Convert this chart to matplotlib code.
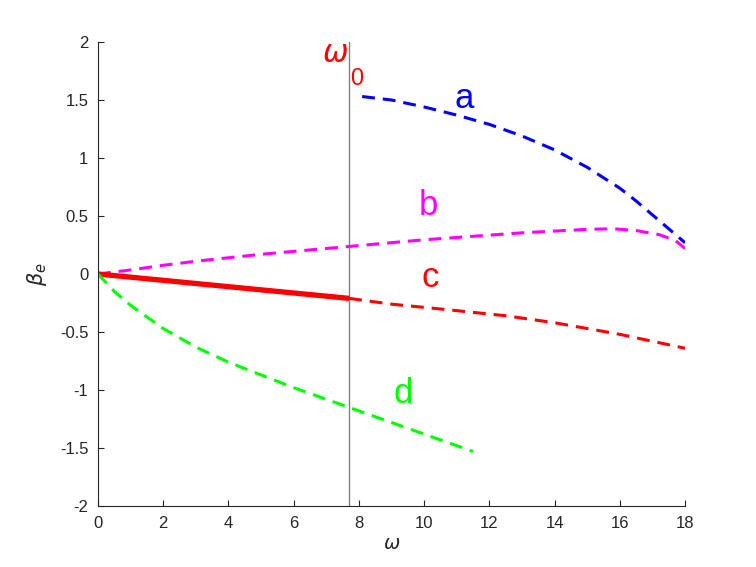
import matplotlib
matplotlib.use("Agg")
import matplotlib.pyplot as plt

plt.rcParams["font.family"] = ["Liberation Sans", "DejaVu Sans"]
plt.rcParams["axes.unicode_minus"] = False

# -----------------------------
# DATA
# -----------------------------
omega0 = 7.7

# a: blue dashed
a_x = [8.1, 9.0, 10.0, 11.0, 12.0, 13.0, 14.0, 15.0, 16.0, 16.5, 17.0, 17.5, 18.0]
a_y = [1.53, 1.50, 1.44, 1.37, 1.29, 1.19, 1.07, 0.92, 0.74, 0.63, 0.51, 0.39, 0.27]

# b: magenta dashed
b_x = [0.0, 1.0, 2.0, 3.0, 4.0, 5.0, 6.0, 7.0, 8.0, 9.0, 10.0, 11.0, 12.0, 13.0, 14.0, 15.0,
       15.8, 16.5, 17.2, 17.7, 18.0]
b_y = [0.0, 0.035, 0.075, 0.11, 0.14, 0.17, 0.195, 0.22, 0.245, 0.27, 0.295, 0.315, 0.335, 0.355,
       0.37, 0.385, 0.39, 0.375, 0.34, 0.29, 0.22]

# c: red, solid below omega0, dashed above
c_solid_x = [0.0, omega0]
c_solid_y = [0.0, -0.21]
c_dash_x = [7.7, 9.0, 10.8, 12.5, 14.0, 16.0, 18.0]
c_dash_y = [-0.21, -0.26, -0.31, -0.36, -0.42, -0.52, -0.64]

# d: green dashed
d_x = [0.0, 0.5, 1.0, 1.5, 2.0, 3.0, 4.0, 5.0, 6.0, 7.0, 7.7, 8.5, 9.5, 10.5, 11.5]
d_y = [0.0, -0.15, -0.27, -0.37, -0.47, -0.63, -0.76, -0.87, -0.98, -1.08, -1.15,
       -1.23, -1.33, -1.43, -1.53]

x_ticks = [0, 2, 4, 6, 8, 10, 12, 14, 16, 18]
y_ticks = [-2, -1.5, -1, -0.5, 0, 0.5, 1, 1.5, 2]
y_tick_labels = ["-2", "-1.5", "-1", "-0.5", "0", "0.5", "1", "1.5", "2"]

# -----------------------------
# PLOT
# -----------------------------
fig = plt.figure(figsize=(7.56, 5.67), dpi=100)
ax = fig.add_axes([98 / 756, 1 - 506 / 567, 587 / 756, 464 / 567])

dash = (4.2, 2.6)
lw = 2.2
ax.axvline(omega0, color="#808080", linewidth=1.0, zorder=1)
ax.plot(a_x, a_y, color="#0000ff", linewidth=lw, dashes=dash)
ax.plot(b_x, b_y, color="#ff00ff", linewidth=lw, dashes=dash)
ax.plot(c_dash_x, c_dash_y, color="#ff0000", linewidth=lw, dashes=dash)
ax.plot(c_solid_x, c_solid_y, color="#ff0000", linewidth=3.8, solid_capstyle="butt")
ax.plot(d_x, d_y, color="#00ff00", linewidth=lw, dashes=dash)

lab_size = 25
ax.text(11.22, 1.43, "a", color="#0000ff", fontsize=lab_size, ha="center", va="baseline")
ax.text(10.12, 0.51, "b", color="#ff00ff", fontsize=lab_size, ha="center", va="baseline")
ax.text(10.18, -0.11, "c", color="#ff0000", fontsize=lab_size, ha="center", va="baseline")
ax.text(9.36, -1.115, "d", color="#00ff00", fontsize=lab_size, ha="center", va="baseline")
ax.text(7.27, 1.83, r"$\omega$", color="#ff0000", fontsize=22, ha="center", va="baseline")
ax.text(7.93, 1.63, "0", color="#ff0000", fontsize=17, ha="center", va="baseline")

ax.set_xlim(0, 18)
ax.set_ylim(-2, 2)
ax.set_xticks(x_ticks)
ax.set_xticklabels([str(t) for t in x_ticks])
ax.set_yticks(y_ticks)
ax.set_yticklabels(y_tick_labels)
ax.tick_params(direction="in", length=4, width=0.8, colors="#262626", labelsize=12, pad=7)

for side in ["top", "right"]:
    ax.spines[side].set_visible(False)
for side in ["left", "bottom"]:
    ax.spines[side].set_color("#262626")
    ax.spines[side].set_linewidth(0.8)

ax.set_xlabel(r"$\omega$", fontsize=14, color="#262626", labelpad=4)
ax.set_ylabel(r"$\beta_e$", fontsize=15, color="#262626", labelpad=8)

fig.savefig("out.png", dpi=100)
